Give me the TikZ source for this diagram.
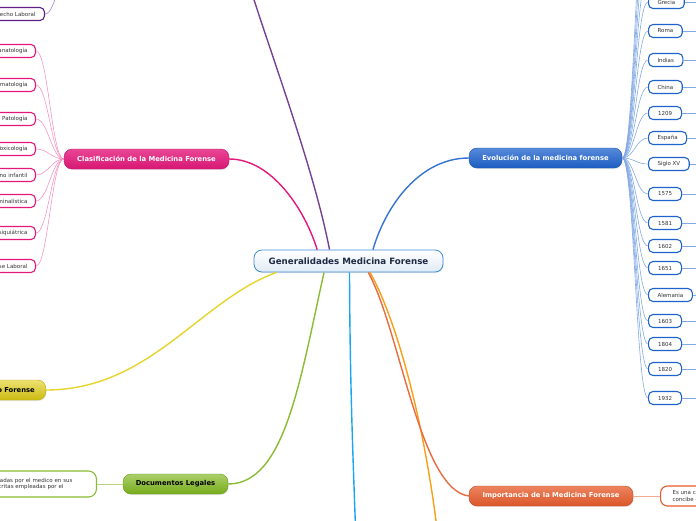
\documentclass[tikz,border=0pt]{standalone}
\usepackage{fontspec}
\setmainfont{DejaVu Sans}
\usetikzlibrary{shadows}
\definecolor{rosajalisco}{HTML}{E3187A}
\definecolor{azulrey}{HTML}{1E62CC}
\definecolor{amarillolimon}{HTML}{E2CF12}
\definecolor{verdelima}{HTML}{7DB51C}
\definecolor{naranjateja}{HTML}{E65A2A}
\definecolor{moradouva}{HTML}{5E2080}
\definecolor{celeste}{HTML}{1AA6EE}
\definecolor{naranjasol}{HTML}{F6A015}
\definecolor{azulborde}{HTML}{3C8CD6}
\definecolor{tintaoscura}{HTML}{1E2A46}
\colorlet{colRosa}{rosajalisco}
\colorlet{colAzul}{azulrey}
\colorlet{colAmarillo}{amarillolimon}
\colorlet{colVerde}{verdelima}
\colorlet{colNaranja}{naranjateja}
\colorlet{colMorado}{moradouva}
\colorlet{colTexto}{black!80}
\tikzset{
  temaCentral/.style={
    draw=azulborde, line width=0.8pt, rounded corners=8pt,
    minimum width=189pt, minimum height=22pt, inner sep=0pt,
    top color=white, bottom color=black!15!azulborde!15,
    font=\fontsize{8.7}{9.5}\selectfont\bfseries, text=tintaoscura,
    drop shadow={opacity=0.2, shadow xshift=0.6pt, shadow yshift=-1pt}
  },
  temaBase/.style={
    rounded corners=8pt, minimum height=20pt, inner ysep=0pt,
    align=center, font=\fontsize{6.8}{7.8}\selectfont\bfseries, text=white,
    drop shadow={opacity=0.2, shadow xshift=0.6pt, shadow yshift=-1pt}
  },
  temaRosa/.style={temaBase, draw=colRosa!85!black, top color=colRosa!80!white, bottom color=colRosa!95!black},
  temaAzul/.style={temaBase, draw=colAzul!85!black, top color=colAzul!75!white, bottom color=colAzul!95!black},
  temaAmarillo/.style={temaBase, draw=colAmarillo!85!black, top color=colAmarillo!60!white, bottom color=colAmarillo!90!black, text=black},
  temaVerde/.style={temaBase, draw=colVerde!85!black, top color=colVerde!65!white, bottom color=colVerde!95!black, text=black},
  temaNaranja/.style={temaBase, draw=colNaranja!85!black, top color=colNaranja!75!white, bottom color=colNaranja!95!black},
  hojaBase/.style={
    draw, line width=1.1pt, rounded corners=4.5pt, fill=white,
    minimum height=13pt, inner ysep=0pt, inner xsep=9pt,
    font=\fontsize{5.5}{6.3}\selectfont, text=colTexto
  },
  hojaRosa/.style={hojaBase, draw=colRosa, anchor=east, text width=60pt, align=right, inner xsep=8pt},
  hojaAzul/.style={hojaBase, draw=colAzul, anchor=west, minimum width=33pt},
  hojaMorada/.style={hojaBase, draw=colMorado, anchor=east, text width=60pt, align=right},
  ramaCentral/.style={line width=1.4pt},
  ligaRosa/.style={line width=0.6pt, colRosa!45},
  ligaAzul/.style={line width=0.6pt, colAzul!55},
}

\begin{document}
\begin{tikzpicture}[x=1pt, y=-1pt]
    \useasboundingbox (0,0) rectangle (696,520);
    \clip (0,0) rectangle (696,520);
    \coordinate (fueraDer) at (712,0);

    % Tema central y ramas
    \node[temaCentral] (centro) at (348.5,261) {Generalidades Medicina Forense};
    \node[temaRosa, minimum width=165pt] (clasificacion) at (146.5,159) {Clasificación de la Medicina Forense};
    \node[temaAzul, minimum width=153pt] (evolucion) at (545.5,158) {Evolución de la medicina forense};
    \node[temaAmarillo, anchor=east, text width=80pt, align=right, inner xsep=11pt] (ramaAmarilla) at (46,390) {o Forense};
    \node[temaVerde, minimum width=105pt] (documentos) at (175.5,484) {Documentos Legales};
    \node[temaNaranja, minimum width=164pt] (importancia) at (551,496) {Importancia de la Medicina Forense};

    % Ramas que salen del lienzo
    \coordinate (ramaMorada) at (240,-45);
    \coordinate (ramaMoradaIzq) at (72,-40);
    \coordinate (ramaCeleste) at (357,570);
    \coordinate (ramaSol) at (442,575);

    \draw[ramaCentral, colMorado!85] (centro.149) .. controls (312,160) and (265,40) .. (ramaMorada);
    \draw[ramaCentral, colRosa] (centro.160) .. controls (305,210) and (272,159) .. (clasificacion.east);
    \draw[ramaCentral, colAzul!90] (centro.25) .. controls (386,205) and (420,158) .. (evolucion.west);
    \draw[ramaCentral, colAmarillo!90] (centro.189) .. controls (200,300) and (150,390) .. (ramaAmarilla.east);
    \draw[ramaCentral, colVerde!90] (centro.205) .. controls (300,380) and (285,484) .. (documentos.east);
    \draw[ramaCentral, celeste] (centro.275) .. controls (350,400) and (354,480) .. (ramaCeleste);
    \draw[ramaCentral, naranjasol] (centro.-28) .. controls (392,310) and (428,420) .. (ramaSol);
    \draw[ramaCentral, colNaranja!90] (centro.-30) .. controls (400,330) and (420,490) .. (importancia.west);

    % Derecho laboral
    \node[hojaMorada] (derechoLaboral) at (45,14) {recho Laboral};
    \draw[line width=0.6pt, colMorado!55] (derechoLaboral.east) .. controls +(12,0) and +(-12,0) .. (ramaMoradaIzq);

    % Clasificacion
    \foreach \n/\y/\t in {tanatologia/51/anatología, traumatologia/85/matología,
        patologia/119/Patología, toxicologia/149/Toxicología, infantil/175/rno infantil,
        criminalistica/201/minalística, psiquiatrica/233/siquiátrica, laboral/266/se Laboral}{
      \node[hojaRosa] (\n) at (36,\y) {\t};
      \draw[ligaRosa] (\n.east) .. controls +(12,0) and +(-12,0) .. (clasificacion.west);
    }

    % Evolucion
    \foreach \n/\y in {arriba1/-24, arriba2/-50, arriba3/-78, arriba4/-110}{
      \coordinate (\n) at (648,\y);
      \draw[ligaAzul] (evolucion.east) .. controls +(12,0) and +(-12,0) .. (\n);
    }
    \foreach \n/\y/\t in {grecia/2/Grecia, roma/31/Roma, indias/60/Indias, china/87/China,
        a1209/113/1209, espana/138/España, sigloXV/164/Siglo XV, a1575/194/1575,
        a1581/223/1581, a1602/246/1602, a1651/268/1651, alemania/295/Alemania,
        a1603/321/1603, a1804/344/1804, a1820/369/1820, a1932/398/1932}{
      \node[hojaAzul] (\n) at (648,\y) {\t};
      \draw[ligaAzul] (evolucion.east) .. controls +(12,0) and +(-12,0) .. (\n.west);
      \draw[ligaAzul] (\n.east) -- (\n.east -| fueraDer);
    }

    % Documentos e importancia
    \node[hojaBase, draw=colVerde!90, anchor=east, minimum height=26pt, text width=90pt, align=left, inner xsep=8pt, rounded corners=8pt] (hojaDocumentos) at (97,484) {ladas por el medico en sus\\critas empleadas por el};
    \draw[line width=0.6pt, colVerde!55] (hojaDocumentos.east) -- (documentos.west);
    \node[hojaBase, draw=colNaranja, anchor=west, minimum height=20pt, text width=80pt, align=left, inner xsep=12pt, rounded corners=7pt] (hojaImportancia) at (660,496) {Es una c\\concibe c};
    \draw[line width=0.6pt, colNaranja!50] (importancia.east) -- (hojaImportancia.west);
  \end{tikzpicture}
\end{document}
